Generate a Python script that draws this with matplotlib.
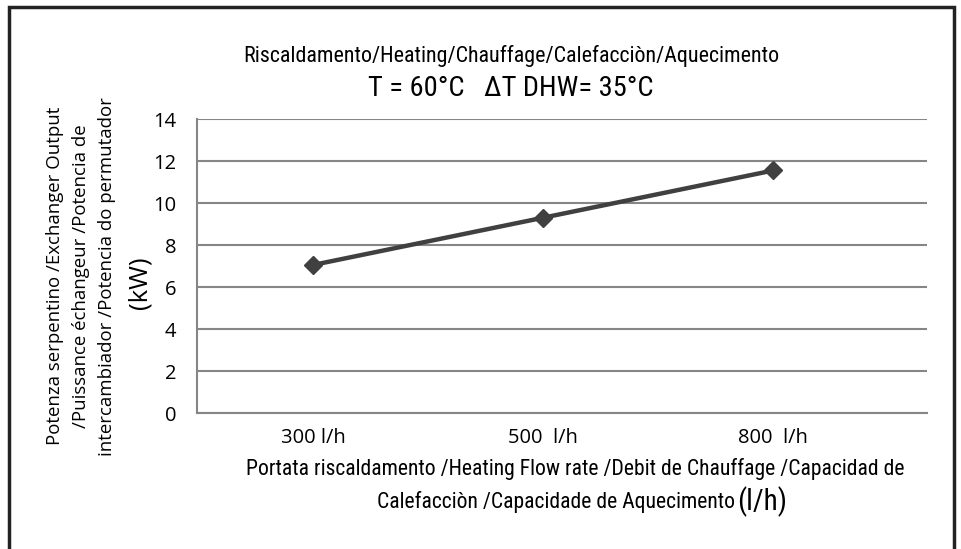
import matplotlib
matplotlib.use("Agg")
import matplotlib.pyplot as plt
from matplotlib.patches import Rectangle
from matplotlib import font_manager

categories = ["300 l/h", "500  l/h", "800  l/h"]
output_kw = [7.05, 9.3, 11.55]
y_ticks = [0, 2, 4, 6, 8, 10, 12, 14]

title1 = "Riscaldamento/Heating/Chauffage/Calefacciòn/Aquecimento"
title2 = "T = 60°C   ΔT DHW= 35°C"
ylabel_lines = "Potenza serpentino /Exchanger Output\n/Puissance échangeur /Potencia de\nintercambiador /Potencia do permutador"
xlabel1 = "Portata riscaldamento /Heating Flow rate /Debit de Chauffage /Capacidad de"
xlabel2 = "Calefacciòn /Capacidade de Aquecimento"

names = {f.name for f in font_manager.fontManager.ttflist}
cond = [n for n in ["Liberation Sans Narrow", "Roboto Condensed", "Open Sans Condensed", "Roboto"] if n in names]
narrow = cond[:1] + ["DejaVu Sans"]
calib = ["Open Sans", "DejaVu Sans"]

fig = plt.figure(figsize=(9.62, 5.49), dpi=100)
ax = fig.add_axes([0.2048, 0.2477, 0.7588, 0.5355])

xs = list(range(len(categories)))
ax.plot(xs, output_kw, color="#404040", lw=3.2, marker="D", ms=9, mfc="#404040", mec="#404040", zorder=3)

ax.set_ylim(0, 14)
ax.set_xlim(-0.504, 2.668)
ax.set_yticks(y_ticks)
ax.set_yticklabels([str(v) for v in y_ticks], fontfamily=calib, fontsize=14.5)
ax.set_xticks(xs)
ax.set_xticklabels(categories, fontfamily=calib, fontsize=14.5)
ax.tick_params(axis="both", length=0)
ax.tick_params(axis="y", pad=15)
ax.tick_params(axis="x", pad=11)
ax.grid(axis="y", color="#868686", lw=1.5)
ax.set_axisbelow(True)
for s in ["top", "right"]:
    ax.spines[s].set_visible(False)
for s in ["left", "bottom"]:
    ax.spines[s].set_color("#868686")
    ax.spines[s].set_linewidth(1.5)

fig.text(0.531, 0.898, title1, ha="center", va="center", fontsize=15.8, fontfamily=narrow)
fig.text(0.531, 0.838, title2, ha="center", va="center", fontsize=20.5, fontfamily=narrow)

fig.text(0.084, 0.497, ylabel_lines, ha="center", va="center", rotation=90,
         fontsize=13.4, fontfamily=calib, linespacing=1.55)
fig.text(0.146, 0.4845, "(kW)", ha="center", va="center", rotation=90,
         fontsize=18.5, fontfamily=calib)

fig.text(0.598, 0.146, xlabel1, ha="center", va="center", fontsize=15.6, fontfamily=narrow)

r = fig.canvas.get_renderer()
t2 = fig.text(0, 0.086, xlabel2, ha="left", va="center", fontsize=15.6, fontfamily=narrow)
t3 = fig.text(0, 0.086, "(l/h)", ha="left", va="center", fontsize=21, fontfamily=narrow)
w2 = t2.get_window_extent(r).width / fig.bbox.width
w3 = t3.get_window_extent(r).width / fig.bbox.width
x0 = 0.604 - (w2 + w3) / 2
t2.set_x(x0)
t3.set_x(x0 + w2 + 0.002)

fig.patches.append(Rectangle((0.009, -0.05), 0.983, 1.037, transform=fig.transFigure,
                             fill=False, ec="#222222", lw=2.5))

fig.savefig("out.png", dpi=100)
